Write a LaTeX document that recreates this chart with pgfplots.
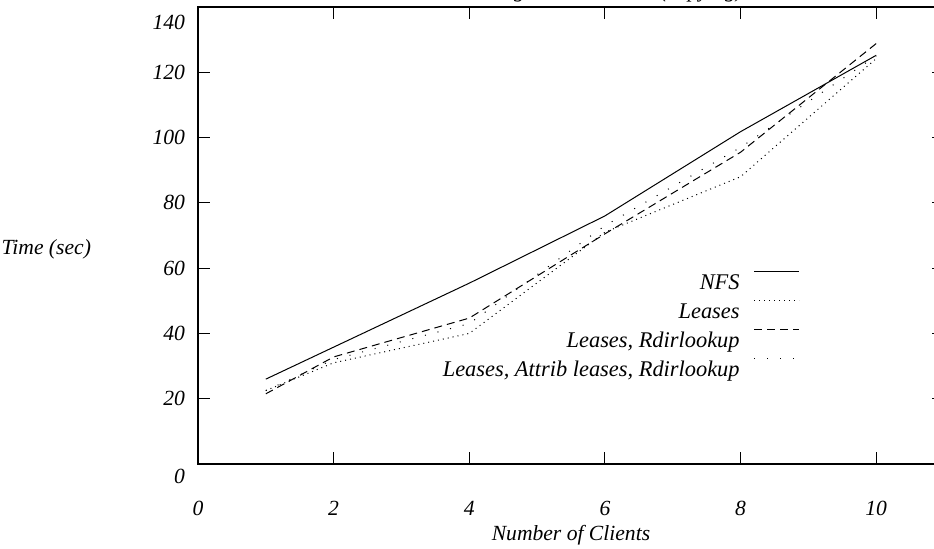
\documentclass[border=0pt]{standalone}
\usepackage{fontspec}
\setmainfont{Liberation Serif}
\usepackage{pgfplots}
\pgfplotsset{compat=1.18}
\newcommand{\lgtxt}[1]{\raisebox{-10pt}[0pt][0pt]{#1\hspace{5pt}}}
\begin{document}
\begin{tikzpicture}[x=1pt,y=1pt]
\useasboundingbox (0,0) rectangle (467,274);
\clip (0,0) rectangle (467,274);
\begin{axis}[
  at={(99pt,42pt)}, anchor=south west,
  scale only axis, width=373pt, height=228.5pt,
  xmin=0, xmax=11, ymin=0, ymax=140,
  xtick={0,2,...,10}, ytick={0,20,...,140},
  yticklabels={\raisebox{-9.7pt}[0pt][0pt]{0},20,40,60,80,100,120,\raisebox{-11.2pt}[0pt][0pt]{140}},
  tick align=inside, major tick length=6pt,
  axis line style={line width=0.6pt}, every tick/.style={black,line width=0.5pt},
  /pgf/number format/assume math mode=true,
  tick label style={font=\fontsize{10.8}{13}\selectfont\itshape},
  xticklabel style={yshift=-15pt},
  yticklabel style={xshift=-3pt},
  label style={font=\fontsize{10.8}{13}\selectfont\itshape},
  xlabel={Number of Clients},
  xlabel style={at={(axis description cs:0.5,0)}, anchor=center, yshift=-35.5pt},
  ylabel={Time (sec)},
  ylabel style={rotate=-90, at={(axis description cs:-0.134,0.47)}, anchor=east},
  title={Benchmarking Phase 2 Times (copying)},
  every axis title shift=0pt,
  title style={font=\fontsize{10.8}{13}\selectfont\itshape, at={(axis description cs:0.5,1)}, anchor=base, yshift=4.6pt},
  legend style={draw=none, fill=none, at={(axis description cs:0.807,0.435)}, anchor=north east,
    font=\fontsize{11.2}{13}\selectfont\itshape, row sep=9pt, inner sep=0pt},
  legend cell align=right, legend plot pos=right,
  legend image code/.code={\draw[#1] (0pt,0pt) -- (22.5pt,0pt);},
]
\addplot[black, line width=0.5pt] coordinates {(1,26) (2,35.8) (4,55.4) (6,76) (8,101.8) (10,125.2)};
\addlegendentry{\lgtxt{NFS}}
\addplot[black, line width=0.5pt, dash pattern=on 0.5pt off 2pt] coordinates {(1,22.5) (2,31) (4,40) (6,71) (8,88) (10,124.2)};
\addlegendentry{\lgtxt{Leases}}
\addplot[black, line width=0.5pt, dash pattern=on 4pt off 2.5pt] coordinates {(1,21.5) (2,32.8) (4,44.7) (6,70.5) (8,95.5) (10,128.8)};
\addlegendentry{\lgtxt{Leases, Rdirlookup}}
\addplot[black, line width=0.5pt, dash pattern=on 0.5pt off 6pt] coordinates {(1,22.5) (2,32) (4,43) (6,73) (8,97) (10,125)};
\addlegendentry{\lgtxt{Leases, Attrib leases, Rdirlookup}}
\end{axis}
\end{tikzpicture}
\end{document}
